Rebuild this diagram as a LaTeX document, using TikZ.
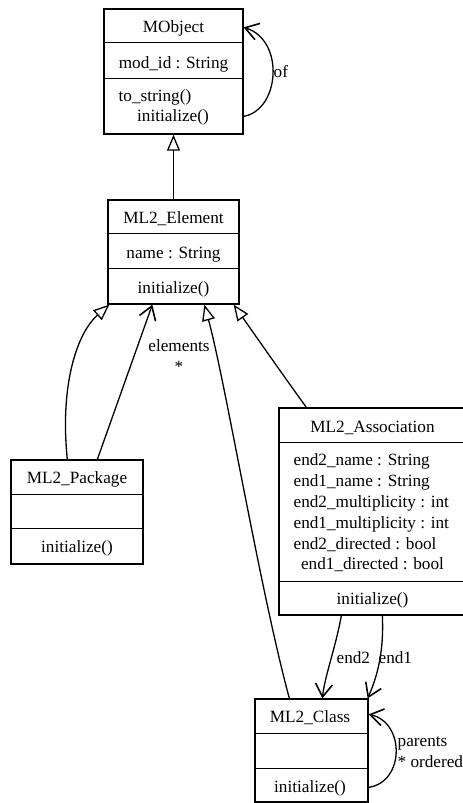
\documentclass[tikz,border=0pt]{standalone}
\usepackage{fontspec}
\setmainfont{Liberation Serif}
\usetikzlibrary{arrows.meta,calc}
\begin{document}
\begin{tikzpicture}[x=1pt,y=-1pt,line width=1.3pt,
  box/.style={draw,rectangle,inner sep=0pt,line width=1.3pt},
  txt/.style={anchor=base,inner sep=0pt,font=\fontsize{17.2}{20.7}\selectfont},
  ltxt/.style={txt,anchor=base west},
  inh/.style={-{Triangle[open,length=16pt,width=13pt,line width=1.3pt]}},
  assoc/.style={-{Straight Barb[length=13pt,width=17pt,line width=1.6pt]}}
]
\useasboundingbox (0,0) rectangle (463,803);

% MObject
\node[box,minimum width=139pt,minimum height=125pt] (mobj) at (173.5,71.5) {};
\draw ($(mobj.north west)+(0,34)$) -- ($(mobj.north east)+(0,34)$);
\draw ($(mobj.north west)+(0,70)$) -- ($(mobj.north east)+(0,70)$);
\node[txt] (mobjT) at (173.5,32) {MObject};
\node[txt] (mobjA) at (173.5,68) {mod\_id : String};
\node[ltxt] (mobjM1) at (118,101) {to\_string()};
\node[txt] (mobjM2) at (173,121) {initialize()};

% ML2_Element
\node[box,minimum width=131pt,minimum height=104pt] (elem) at (173.5,252) {};
\draw ($(elem.north west)+(0,34)$) -- ($(elem.north east)+(0,34)$);
\draw ($(elem.north west)+(0,69)$) -- ($(elem.north east)+(0,69)$);
\node[txt] (elemT) at (173.5,223) {ML2\_Element};
\node[txt] (elemA) at (173.5,258) {name : String};
\node[txt] (elemM) at (173.5,293) {initialize()};

% ML2_Package
\node[box,minimum width=132pt,minimum height=104pt] (pkg) at (77,512) {};
\draw ($(pkg.north west)+(0,35)$) -- ($(pkg.north east)+(0,35)$);
\draw ($(pkg.north west)+(0,69)$) -- ($(pkg.north east)+(0,69)$);
\node[txt] (pkgT) at (77,483) {ML2\_Package};
\node[txt] (pkgM) at (77,552) {initialize()};

% ML2_Association
\node[box,minimum width=187pt,minimum height=207pt] (asc) at (372.5,511.5) {};
\draw ($(asc.north west)+(0,35)$) -- ($(asc.north east)+(0,35)$);
\draw ($(asc.north west)+(0,174)$) -- ($(asc.north east)+(0,174)$);
\node[txt] (ascT) at (372.5,432) {ML2\_Association};
\node[ltxt] (ascA1) at (293,465) {end2\_name : String};
\node[ltxt] (ascA2) at (293,486) {end1\_name : String};
\node[ltxt] (ascA3) at (293,507) {end2\_multiplicity : int};
\node[ltxt] (ascA4) at (293,528) {end1\_multiplicity : int};
\node[ltxt] (ascA5) at (293,549) {end2\_directed : bool};
\node[txt] (ascA6) at (372.5,569) {end1\_directed : bool};
\node[txt] (ascM) at (372.5,604) {initialize()};

% ML2_Class
\node[box,minimum width=113pt,minimum height=103pt] (cls) at (311.5,750.5) {};
\draw ($(cls.north west)+(0,35)$) -- ($(cls.north east)+(0,35)$);
\draw ($(cls.north west)+(0,70)$) -- ($(cls.north east)+(0,70)$);
\node[txt] (clsT) at (310,722) {ML2\_Class};
\node[txt] (clsM) at (310,792) {initialize()};

% connectors
\draw[inh] (elem.north) -- (mobj.south);
\draw[assoc] ($(mobj.north east)+(0,108)$) .. controls (280,110) and (285,40) .. ($(mobj.north east)+(0,19)$);
\node[ltxt] (lof) at (273,77) {of};

\draw[inh] ($(pkg.north west)+(57,0)$) .. controls (60,390) and (75,335) .. ($(elem.south west)+(2,0)$);
\draw[assoc] ($(pkg.north west)+(87,0)$) -- ($(elem.south west)+(45,0)$);
\node[txt] (lel) at (179,351) {elements};
\node[txt] (lst) at (179,372) {*};

\draw[inh] ($(cls.north west)+(35,0)$) .. controls (260,590) and (225,380) .. ($(elem.south west)+(97,0)$);
\draw[inh] ($(asc.north west)+(28,0)$) .. controls (290,385) and (255,335) .. ($(elem.south east)+(-6,0)$);

\draw[assoc] ($(asc.south west)+(63,0)$) .. controls (335,650) and (325,675) .. ($(cls.north west)+(68,0)$);
\draw[assoc] ($(asc.south west)+(104,0)$) .. controls (384,650) and (378,675) .. ($(cls.north east)+(-1,0)$);
\node[ltxt] (le2) at (336,663) {end2};
\node[ltxt] (le1) at (378,663) {end1};

\draw[assoc] ($(cls.north east)+(0,89)$) .. controls (405,782) and (405,722) .. ($(cls.north east)+(0,16)$);
\node[ltxt] (lpa) at (397,746) {parents};
\node[ltxt] (lor) at (397,767) {* ordered};
\end{tikzpicture}
\end{document}
